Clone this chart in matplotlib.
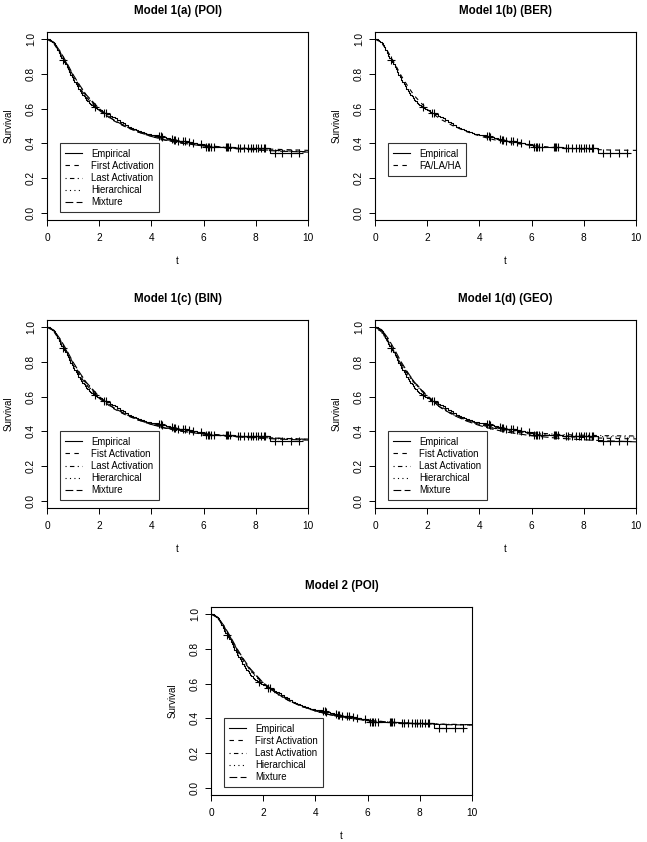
import numpy as np
import matplotlib
matplotlib.use("Agg")
import matplotlib.pyplot as plt

plt.rcParams['font.family'] = ['Liberation Sans', 'DejaVu Sans']

# Kaplan-Meier estimate (step times and survival after each step)
km_t = [0, 0.05, 0.1, 0.15, 0.2, 0.25, 0.3, 0.35, 0.4, 0.45, 0.5, 0.55, 0.6, 0.65,
        0.7, 0.75, 0.8, 0.85, 0.9, 0.95, 1.0, 1.05, 1.1, 1.15, 1.2, 1.25, 1.3,
        1.35, 1.4, 1.45, 1.5, 1.55, 1.6, 1.65, 1.7, 1.75, 1.8, 1.85, 1.9, 2.0,
        2.1, 2.2, 2.3, 2.4, 2.5, 2.6, 2.7, 2.8, 2.9, 3.0, 3.1, 3.2, 3.3, 3.4,
        3.5, 3.6, 3.7, 3.8, 3.9, 4.0, 4.1, 4.25, 4.4, 4.55, 4.7, 4.85, 5.0,
        5.15, 5.35, 5.55, 5.75, 5.95, 6.05, 7.2, 8.55]
km_s = [1.0, 0.998, 0.995, 0.99, 0.985, 0.976, 0.965, 0.951, 0.935, 0.92, 0.905,
        0.892, 0.88, 0.868, 0.855, 0.84, 0.825, 0.81, 0.795, 0.78, 0.765, 0.752,
        0.74, 0.727, 0.715, 0.702, 0.69, 0.68, 0.67, 0.66, 0.65, 0.642, 0.635,
        0.627, 0.62, 0.615, 0.61, 0.605, 0.60, 0.59, 0.582, 0.575, 0.568, 0.56,
        0.553, 0.545, 0.535, 0.525, 0.515, 0.505, 0.497, 0.49, 0.482, 0.475,
        0.47, 0.465, 0.46, 0.455, 0.452, 0.45, 0.447, 0.443, 0.436, 0.43, 0.425,
        0.42, 0.416, 0.412, 0.407, 0.40, 0.395, 0.389, 0.381, 0.375, 0.343]
km_end = 9.7
# censoring times
cens_t = [0.62, 1.82, 2.2, 2.25, 4.3, 4.35, 4.42, 4.8, 4.85, 4.9, 5.0, 5.2, 5.3,
          5.45, 5.6, 5.9, 6.1, 6.15, 6.2, 6.3, 6.4, 6.85, 6.9, 6.95, 7.0, 7.3,
          7.4, 7.55, 7.7, 7.8, 7.9, 8.0, 8.1, 8.2, 8.3, 8.35, 8.75, 9.0, 9.35, 9.65]

# model-based survival curves read at these times
grid = [0, 0.25, 0.5, 0.75, 1.0, 1.25, 1.5, 2.0, 2.5, 3.0, 3.5, 4.0, 4.5, 5.0,
        6.0, 7.0, 8.0, 9.0, 10.0]

poi_fa = [1, 0.975, 0.92, 0.85, 0.78, 0.72, 0.665, 0.59, 0.535, 0.495, 0.465, 0.44, 0.42, 0.405, 0.385, 0.375, 0.37, 0.365, 0.36]
poi_la = [1, 0.98, 0.925, 0.86, 0.79, 0.73, 0.675, 0.595, 0.54, 0.50, 0.47, 0.445, 0.425, 0.41, 0.39, 0.375, 0.365, 0.358, 0.352]
poi_ha = [1, 0.978, 0.922, 0.855, 0.785, 0.725, 0.67, 0.592, 0.537, 0.497, 0.467, 0.442, 0.422, 0.407, 0.387, 0.374, 0.365, 0.357, 0.352]
poi_mx = [1, 0.982, 0.93, 0.865, 0.795, 0.735, 0.68, 0.60, 0.54, 0.498, 0.465, 0.44, 0.42, 0.405, 0.385, 0.372, 0.362, 0.355, 0.35]

ber_all = [1, 0.978, 0.925, 0.86, 0.79, 0.73, 0.675, 0.595, 0.54, 0.50, 0.468, 0.443, 0.423, 0.408, 0.388, 0.375, 0.367, 0.362, 0.36]

bin_fa = [1, 0.976, 0.92, 0.852, 0.782, 0.722, 0.668, 0.59, 0.535, 0.495, 0.465, 0.44, 0.42, 0.405, 0.386, 0.374, 0.366, 0.36, 0.356]
bin_la = [1, 0.98, 0.927, 0.862, 0.792, 0.732, 0.678, 0.597, 0.54, 0.50, 0.468, 0.443, 0.423, 0.408, 0.388, 0.375, 0.366, 0.36, 0.355]
bin_ha = [1, 0.978, 0.923, 0.857, 0.787, 0.727, 0.673, 0.593, 0.537, 0.497, 0.466, 0.441, 0.421, 0.406, 0.386, 0.373, 0.364, 0.357, 0.352]
bin_mx = [1, 0.983, 0.932, 0.868, 0.798, 0.738, 0.683, 0.60, 0.541, 0.499, 0.466, 0.44, 0.42, 0.404, 0.384, 0.371, 0.362, 0.355, 0.35]

geo_fa = [1, 0.975, 0.92, 0.855, 0.79, 0.735, 0.685, 0.605, 0.545, 0.50, 0.466, 0.44, 0.42, 0.404, 0.384, 0.372, 0.365, 0.36, 0.357]
geo_la = [1, 0.972, 0.915, 0.85, 0.785, 0.73, 0.68, 0.60, 0.54, 0.497, 0.466, 0.443, 0.425, 0.411, 0.393, 0.383, 0.378, 0.375, 0.374]
geo_ha = [1, 0.97, 0.912, 0.847, 0.782, 0.727, 0.677, 0.598, 0.538, 0.495, 0.463, 0.44, 0.421, 0.407, 0.389, 0.378, 0.372, 0.369, 0.367]
geo_mx = [1, 0.985, 0.935, 0.87, 0.80, 0.74, 0.685, 0.60, 0.538, 0.494, 0.46, 0.434, 0.413, 0.397, 0.375, 0.361, 0.352, 0.345, 0.34]

m2_fa = [1, 0.978, 0.925, 0.86, 0.79, 0.73, 0.678, 0.60, 0.545, 0.50, 0.468, 0.443, 0.423, 0.408, 0.389, 0.377, 0.37, 0.366, 0.364]
m2_la = [1, 0.98, 0.928, 0.864, 0.795, 0.735, 0.682, 0.603, 0.546, 0.501, 0.469, 0.444, 0.424, 0.409, 0.389, 0.377, 0.37, 0.366, 0.364]
m2_ha = [1, 0.977, 0.922, 0.857, 0.788, 0.728, 0.675, 0.597, 0.542, 0.499, 0.467, 0.442, 0.422, 0.407, 0.388, 0.376, 0.369, 0.365, 0.363]
m2_mx = [1, 0.982, 0.932, 0.868, 0.80, 0.74, 0.686, 0.605, 0.547, 0.502, 0.469, 0.443, 0.423, 0.407, 0.387, 0.375, 0.368, 0.364, 0.362]

labels5 = ['Empirical', 'First Activation', 'Last Activation', 'Hierarchical', 'Mixture']
labels5b = ['Empirical', 'Fist Activation', 'Last Activation', 'Hierarchical', 'Mixture']
styles = [(0, (4, 4)), (0, (1, 3, 4, 3)), (0, (1, 3)), (0, (7, 3))]

panels = [
    ('Model 1(a) (POI)', [47, 32], [poi_fa, poi_la, poi_ha, poi_mx], labels5),
    ('Model 1(b) (BER)', [375, 32], [ber_all], ['Empirical', 'FA/LA/HA']),
    ('Model 1(c) (BIN)', [47, 320], [bin_fa, bin_la, bin_ha, bin_mx], labels5b),
    ('Model 1(d) (GEO)', [375, 320], [geo_fa, geo_la, geo_ha, geo_mx], labels5b),
    ('Model 2 (POI)', [211, 607], [m2_fa, m2_la, m2_ha, m2_mx], labels5),
]

W, H = 647, 842
fig = plt.figure(figsize=(W / 100, H / 100), dpi=100)

st = np.array(km_s)
tt = np.array(km_t)
cens_s = st[np.searchsorted(tt, cens_t, side='right') - 1]

fs = 6.9
for title, (px, py), curves, labs in panels:
    ax = fig.add_axes([px / W, 1 - (py + 188) / H, 261 / W, 188 / H])
    lw = 0.8
    h = []
    l0, = ax.step(list(km_t) + [km_end], list(km_s) + [km_s[-1]], where='post',
                  color='black', lw=lw)
    ax.plot(cens_t, cens_s, ls='none', marker='+', ms=6, mew=0.8, color='black')
    h.append(l0)
    for i, c in enumerate(curves):
        ln, = ax.plot(grid, c, color='black', lw=lw, ls=styles[i])
        h.append(ln)
    ax.set_xlim(0, 10)
    ax.set_ylim(-0.04, 1.04)
    ax.set_xticks([0, 2, 4, 6, 8, 10])
    ax.set_yticks([0.0, 0.2, 0.4, 0.6, 0.8, 1.0])
    ax.set_yticklabels(['0.0', '0.2', '0.4', '0.6', '0.8', '1.0'], rotation=90, va='center')
    ax.tick_params(direction='out', length=4, width=0.7, labelsize=fs + 0.4)
    ax.tick_params(axis='x', pad=5.5)
    ax.tick_params(axis='y', pad=4)
    for s in ax.spines.values():
        s.set_linewidth(0.8)
    ax.set_title(title, fontsize=8.3, fontweight='bold', pad=13)
    ax.set_xlabel('t', fontsize=fs, labelpad=9)
    ax.set_ylabel('Survival', fontsize=fs, labelpad=9)
    leg = ax.legend(h, labs, loc='upper left', bbox_to_anchor=(0.5, 0.40),
                    bbox_transform=ax.transData, fontsize=fs, frameon=True,
                    fancybox=False, borderaxespad=0, handlelength=1.7,
                    labelspacing=0.22, borderpad=0.55, handletextpad=1.0)
    leg.get_frame().set_edgecolor('black')
    leg.get_frame().set_linewidth(0.8)

fig.savefig('out.png', dpi=100)
